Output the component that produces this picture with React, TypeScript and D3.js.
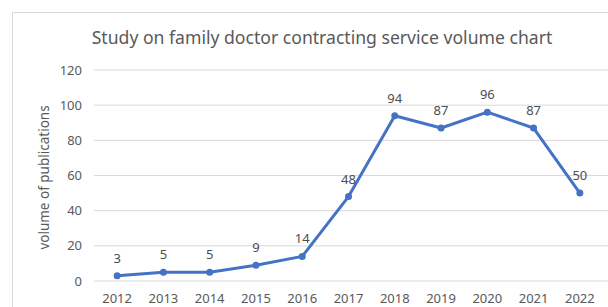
import React from 'react';
import * as d3 from 'd3';

const years = ['2012', '2013', '2014', '2015', '2016', '2017', '2018', '2019', '2020', '2021', '2022'];
const publications = [3, 5, 5, 9, 14, 48, 94, 87, 96, 87, 50];
const yTicks = [0, 20, 40, 60, 80, 100, 120];

const chartTitle = 'Study on family doctor contracting service volume chart';
const yTitle = 'volume of publications';

export default function App() {
  const width = 608;
  const height = 307;
  const margin = { top: 70, right: 5, bottom: 26, left: 94 };

  const x = d3.scaleBand()
    .domain(years)
    .range([margin.left, width - margin.right]);

  const y = d3.scaleLinear()
    .domain([0, 120])
    .range([height - margin.bottom, margin.top]);

  const cx = (yr: string) => (x(yr) ?? 0) + x.bandwidth() / 2;

  const line = d3.line<number>()
    .x((_, i) => cx(years[i]))
    .y(d => y(d));

  const font = '"Noto Sans", Roboto, sans-serif';

  return (
    <svg
      width={width}
      height={height}
      style={{ position: 'absolute', left: 0, top: 0, fontFamily: font }}
    >
      <rect x={0} y={0} width={width} height={height} fill="#fff" />
      {/* chart frame, cut off at right and bottom */}
      <rect x={12.5} y={12.5} width={620} height={320} fill="none" stroke="#d9d9d9" />

      <text x={322} y={44} textAnchor="middle" fontSize={17.6} fill="#595959">
        {chartTitle}
      </text>

      {/* gridlines + y ticks */}
      {yTicks.map(t => (
        <g key={t}>
          <line
            x1={margin.left}
            x2={width}
            y1={y(t)}
            y2={y(t)}
            stroke="#d9d9d9"
            strokeWidth={1}
          />
          <text x={82} y={y(t)} dy="0.35em" textAnchor="end" fontSize={13} fill="#595959">
            {t}
          </text>
        </g>
      ))}

      {/* x labels */}
      {years.map(yr => (
        <text key={yr} x={cx(yr)} y={height - 4} textAnchor="middle" fontSize={13} fill="#595959">
          {yr}
        </text>
      ))}

      <text
        transform={`translate(49,${(y(0) + y(120)) / 2 + 2}) rotate(-90)`}
        textAnchor="middle"
        fontSize={13.5}
        fill="#595959"
      >
        {yTitle}
      </text>

      <path d={line(publications) ?? ''} fill="none" stroke="#4472c4" strokeWidth={3} strokeLinejoin="round" />

      {publications.map((v, i) => (
        <g key={years[i]}>
          <circle cx={cx(years[i])} cy={y(v)} r={3.5} fill="#4472c4" />
          <text x={cx(years[i])} y={y(v) - 13} textAnchor="middle" fontSize={13} fill="#4d4d4d">
            {v}
          </text>
        </g>
      ))}
    </svg>
  );
}
